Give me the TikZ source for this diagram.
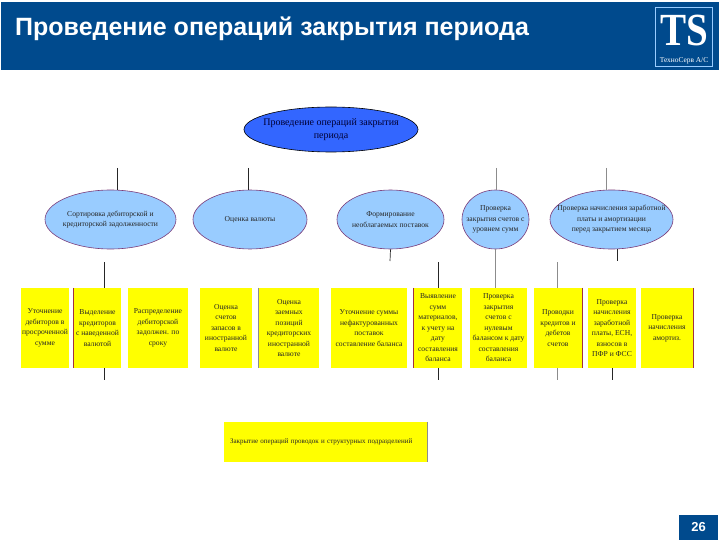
\documentclass[tikz,border=0pt]{standalone}
\usepackage{fontspec}
\setmainfont{Liberation Serif}
\newfontfamily\headfont{Liberation Sans}
\usetikzlibrary{shapes.geometric}

\definecolor{headblue}{HTML}{004A8D}
\definecolor{topblue}{HTML}{3366FF}
\definecolor{lightblue}{HTML}{99CCFF}
\definecolor{boxyellow}{HTML}{FFFF00}
\definecolor{edgepurple}{HTML}{7A3A78}
\definecolor{edgered}{HTML}{A03040}

\tikzset{
    band/.style={draw=none, fill=headblue, rectangle, inner sep=0pt},
    topell/.style={draw=black, fill=topblue, ellipse, inner sep=0pt, line width=0.6pt},
    subell/.style={draw=edgepurple, fill=lightblue, ellipse, inner sep=0pt, line width=0.6pt},
    ybox/.style={fill=boxyellow, rectangle, inner sep=0pt, minimum height=80pt, align=center, text=black!85,
        font=\fontsize{7.6}{10.5}\selectfont},
    elltext/.style={align=center, inner sep=0pt, text=black!85, font=\fontsize{7.6}{10.5}\selectfont},
    stub/.style={draw=black!85, line width=0.7pt},
    greystub/.style={draw=black!45, line width=0.7pt},
    edgeline/.style={draw=edgered, line width=0.7pt}
}

\begin{document}
\begin{tikzpicture}[x=1pt, y=-1pt]

    \useasboundingbox (0,0) rectangle (720,540);

    % Header band with title and logo
    \node (header) [band, minimum width=718pt, minimum height=68pt] at (360,36) {};
    \node (title) [anchor=west, inner sep=0pt, text=white, font=\headfont\bfseries\fontsize{25}{28}\selectfont] at (15,29) {Проведение операций закрытия периода};
    \node (logo) [draw=lightblue, line width=0.5pt, rectangle, inner sep=0pt, minimum width=57pt, minimum height=59pt] at (684,37) {};
    \node (logoTS) [inner sep=0pt, text=white, font=\bfseries\fontsize{46}{46}\selectfont] at (684,30) {\scalebox{0.85}[1]{TS}};
    \node (logoname) [inner sep=0pt, text=white, font=\fontsize{7.4}{8}\selectfont] at (684,61) {ТехноСерв А/С};

    % Top ellipse
    \node (closing) [topell, minimum width=174pt, minimum height=45pt] at (331,129.5) {};
    \node (closingtext) [elltext, text=black!80!blue, font=\fontsize{10}{13}\selectfont] at (closing) {Проведение операций закрытия\\периода};

    % Ellipses of the second level
    \node (sorting) [subell, minimum width=131pt, minimum height=59pt] at (110.5,219.5) {};
    \node (currency) [subell, minimum width=114pt, minimum height=59pt] at (250,219.5) {};
    \node (forming) [subell, minimum width=107pt, minimum height=59pt] at (390.5,219.5) {};
    \node (accounts) [subell, minimum width=67pt, minimum height=59pt] at (495.5,219.5) {};
    \node (payroll) [subell, minimum width=123pt, minimum height=59pt] at (611.5,219.5) {};

    \node (sortingtext) [elltext] at (sorting) {Сортировка дебиторской и\\кредиторской задолженности};
    \node (currencytext) [elltext] at (currency) {Оценка валюты};
    \node (formingtext) [elltext] at (forming) {Формирование\\необлагаемых поставок};
    \node (accountstext) [elltext] at (accounts) {Проверка\\закрытия счетов с\\уровнем сумм};
    \node (payrolltext) [elltext] at (payroll) {Проверка начисления заработной\\платы и амортизации\\перед закрытием месяца};

    % Yellow boxes
    \node (debtors) [ybox, minimum width=48pt] at (45,328) {Уточнение\\дебиторов в\\просроченной\\сумме};
    \node (creditors) [ybox, minimum width=47pt] at (97.5,328) {Выделение\\кредиторов\\с наведенной\\валютой};
    \node (spread) [ybox, minimum width=60pt] at (158,328) {Распределение\\дебиторской\\задолжен. по\\сроку};
    \node (rates) [ybox, minimum width=52pt] at (226,328) {Оценка\\счетов\\запасов в\\иностранной\\валюте};
    \node (loans) [ybox, minimum width=60pt] at (289,328) {Оценка\\заемных\\позиций\\кредиторских\\иностранной\\валюте};
    \node (invoices) [ybox, minimum width=76pt] at (369,328) {Уточнение суммы\\нефактурованных\\поставок\\составление баланса};
    \node (materials) [ybox, minimum width=48pt] at (438,328) {Выявление\\сумм\\материалов,\\к учету на\\дату\\составления\\баланса};
    \node (zeros) [ybox, minimum width=57pt] at (498.5,328) {Проверка\\закрытия\\счетов с\\нулевым\\балансом к дату\\составления\\баланса};
    \node (entries) [ybox, minimum width=48pt] at (558,328) {Проводки\\кредитов и\\дебетов\\счетов};
    \node (wages) [ybox, minimum width=48pt] at (612,328) {Проверка\\начисления\\заработной\\платы, ЕСН,\\взносов в\\ПФР и ФСС};
    \node (amort) [ybox, minimum width=52pt] at (667,328) {Проверка\\начисления\\амортиз.};
    \node (final) [ybox, align=left, inner xsep=6pt, text width=191pt, minimum height=40pt, font=\fontsize{7}{9}\selectfont] at (325.5,442) {Закрытие операций проводок и структурных подразделений};

    % Red edges seen on the boxes
    \draw[edgeline] (creditors.north west) -- (creditors.south west);
    \draw[greystub] (loans.north west) -- (loans.south west);
    \draw[edgeline] (materials.north west) -- (materials.south west);
    \draw[edgeline] (entries.north east) -- (entries.south east);
    \draw[edgeline] (amort.north east) -- (amort.south east);
    \draw[greystub] (final.north east) -- (final.south east);

    % Free ends of the stubs
    \coordinate (upSorting) at (117,168);
    \coordinate (upCurrency) at (248,168);
    \coordinate (upAccounts) at (496,168);
    \coordinate (upPayroll) at (606,168);
    \coordinate (downForming) at (390,261);
    \coordinate (downPayroll) at (617,261);
    \coordinate (inCreditors) at (104,262);
    \coordinate (inMaterials) at (438,262);
    \coordinate (inEntries) at (557,262);
    \coordinate (outCreditors) at (104,380);
    \coordinate (outMaterials) at (438,380);
    \coordinate (outEntries) at (557,380);
    \coordinate (outWages) at (612,380);

    % Stubs of the ellipses
    \draw[stub] (upSorting) -- (upSorting |- sorting.north);
    \draw[stub] (upCurrency) -- (upCurrency |- currency.north);
    \draw[greystub] (upAccounts) -- (upAccounts |- accounts.north);
    \draw[greystub] (upPayroll) -- (upPayroll |- payroll.north);
    \draw[stub] (forming.south) -- (downForming);
    \draw[stub] (downPayroll |- payroll.south) -- (downPayroll);
    \draw[greystub] (accounts.south) -- (accounts.south |- zeros.north);

    % Stubs of the boxes
    \draw[stub] (inCreditors) -- (inCreditors |- creditors.north);
    \draw[stub] (inMaterials) -- (inMaterials |- materials.north);
    \draw[greystub] (inEntries) -- (inEntries |- entries.north);
    \draw[stub] (outCreditors |- creditors.south) -- (outCreditors);
    \draw[stub] (outMaterials |- materials.south) -- (outMaterials);
    \draw[greystub] (outEntries |- entries.south) -- (outEntries);
    \draw[stub] (outWages |- wages.south) -- (outWages);

    % Page number
    \node (pagenum) [band, minimum width=39pt, minimum height=25pt, text=white, font=\headfont\bfseries\fontsize{13}{15}\selectfont] at (698.5,527.5) {26};

\end{tikzpicture}
\end{document}
